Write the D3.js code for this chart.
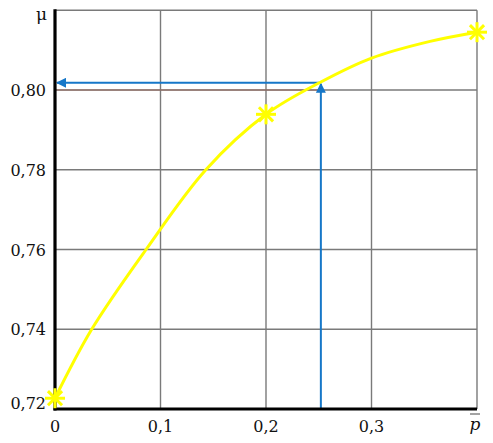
<!DOCTYPE html>
<html><head><meta charset="utf-8">
<script src="https://cdn.jsdelivr.net/npm/d3@7"></script>
<style>
html,body{margin:0;padding:0;background:#fff;}
text{font-family:"DejaVu Serif","Liberation Serif",serif;}
</style>
</head><body>
<svg id="c" width="493" height="443"></svg>
<script>
const xTicks = [0, 0.1, 0.2, 0.3, 0.4];
const xTickLabels = ["0", "0,1", "0,2", "0,3"];
const yTicks = [0.72, 0.74, 0.76, 0.78, 0.80, 0.82];
const yTickLabels = ["0,72", "0,74", "0,76", "0,78", "0,80"];
const markerP = [0, 0.2, 0.4];
const markerMu = [0.7227, 0.7939, 0.8145];
const curveP = [0, 0.0348, 0.0863, 0.143, 0.2, 0.252, 0.3, 0.3555, 0.4];
const curveMu = [0.7227, 0.74, 0.76, 0.78, 0.7939, 0.8020, 0.8080, 0.8122, 0.8145];
const readP = 0.252;
const readMu = 0.8018;

const svg = d3.select("#c");
const x = d3.scaleLinear().domain([0, 0.4]).range([55, 477]);
const y = d3.scaleLinear().domain([0.72, 0.82]).range([409, 10.25]);

// grid
const g = svg.append("g");
xTicks.forEach(t => g.append("line").attr("x1", x(t)).attr("x2", x(t)).attr("y1", y(0.72)).attr("y2", y(0.82))
  .attr("stroke", "#7a7a7a").attr("stroke-width", 1.4));
yTicks.forEach(t => g.append("line").attr("x1", x(0)).attr("x2", x(0.4)).attr("y1", y(t)).attr("y2", y(t))
  .attr("stroke", "#7a7a7a").attr("stroke-width", 1.4));
g.append("line").attr("x1", x(0)).attr("x2", x(readP)).attr("y1", y(0.80)).attr("y2", y(0.80))
  .attr("stroke", "#9a6a5e").attr("stroke-width", 1.2);

// blue arrows
const blue = "#1677c8";
svg.append("defs").append("marker").attr("id", "ah").attr("viewBox", "0 0 10 10")
  .attr("refX", 9).attr("refY", 5).attr("markerWidth", 11).attr("markerHeight", 10)
  .attr("markerUnits", "userSpaceOnUse").attr("orient", "auto")
  .append("path").attr("d", "M0,0 L10,5 L0,10 Z").attr("fill", blue);
svg.append("line").attr("x1", x(readP)).attr("x2", x(readP)).attr("y1", y(0.72)).attr("y2", y(readMu) + 1)
  .attr("stroke", blue).attr("stroke-width", 2).attr("marker-end", "url(#ah)");
svg.append("line").attr("x1", x(readP)).attr("x2", x(0) + 2).attr("y1", y(readMu)).attr("y2", y(readMu))
  .attr("stroke", blue).attr("stroke-width", 2).attr("marker-end", "url(#ah)");

// axes (thick)
svg.append("line").attr("x1", x(0)).attr("x2", x(0)).attr("y1", y(0.72) + 1.5).attr("y2", y(0.82) - 1)
  .attr("stroke", "#000").attr("stroke-width", 3.2);
svg.append("line").attr("x1", x(0) - 1.5).attr("x2", x(0.4)).attr("y1", y(0.72)).attr("y2", y(0.72))
  .attr("stroke", "#000").attr("stroke-width", 3.2);

// curve
const pts = curveP.map((p, i) => [p, curveMu[i]]);
svg.append("path").attr("d", d3.line().x(d => x(d[0])).y(d => y(d[1])).curve(d3.curveCatmullRom.alpha(0.5))(pts))
  .attr("fill", "none").attr("stroke", "#ffff00").attr("stroke-width", 3);

// star markers
markerP.forEach((p, i) => {
  const cx = x(p), cy = y(markerMu[i]);
  const r = 10;
  for (let k = 0; k < 4; k++) {
    const a = Math.PI / 2 + k * Math.PI / 4;
    svg.append("line").attr("x1", cx - r * Math.cos(a)).attr("y1", cy - r * Math.sin(a))
      .attr("x2", cx + r * Math.cos(a)).attr("y2", cy + r * Math.sin(a))
      .attr("stroke", "#ffff00").attr("stroke-width", 3);
  }
});

// y labels
yTickLabels.forEach((lab, i) => {
  svg.append("text").attr("x", 46).attr("y", y(yTicks[i]) + (i === 0 ? -5 : 1.5))
    .attr("text-anchor", "end").attr("dominant-baseline", "middle")
    .attr("font-size", 16).attr("fill", "#111").text(lab);
});
// x labels
xTickLabels.forEach((lab, i) => {
  svg.append("text").attr("x", x(xTicks[i])).attr("y", 432)
    .attr("text-anchor", "middle")
    .attr("font-size", 16).attr("fill", "#111").text(lab);
});
// axis titles
svg.append("text").attr("x", 47).attr("y", 20).attr("text-anchor", "end")
  .attr("font-size", 17).attr("fill", "#111").text("μ");
svg.append("text").attr("x", 475).attr("y", 430).attr("text-anchor", "middle")
  .attr("font-style", "italic").attr("font-size", 17).attr("fill", "#111").text("p");
svg.append("line").attr("x1", 470).attr("x2", 480).attr("y1", 414).attr("y2", 414)
  .attr("stroke", "#333").attr("stroke-width", 0.9);
</script>
</body></html>
